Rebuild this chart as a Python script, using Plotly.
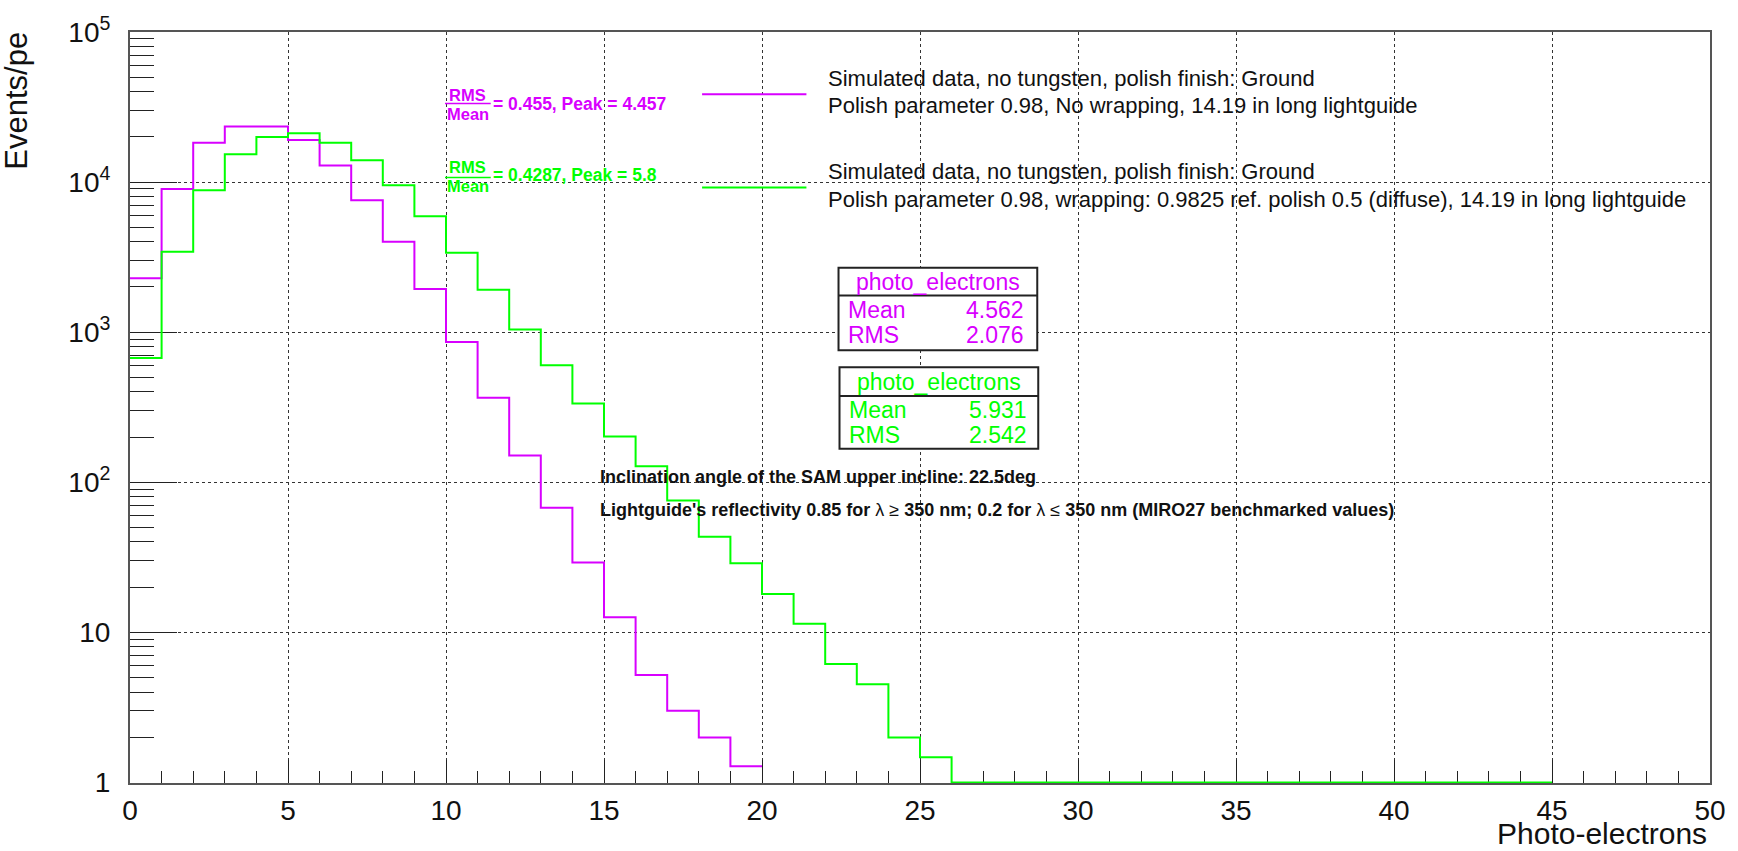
import plotly.graph_objects as go

# ---------------- data ----------------
magenta_edges = list(range(0, 21))
magenta_counts = [2290, 8990, 18300, 23500, 23500, 19050, 12900, 7560, 4005, 1936,
                  859, 365, 151, 67.6, 29.2, 12.6, 5.2, 3.0, 1.99, 1.28]

green_edges = list(range(0, 46))
green_counts = [673, 3437, 8810, 15320, 19950, 21120, 18300, 13990, 9510, 5930,
                3388, 1918, 1042, 602, 335, 202, 127.7, 75.7, 43.4, 28.8,
                18.0, 11.4, 6.14, 4.5, 1.99, 1.47,
                1, 1, 1, 1, 1, 1, 1, 1, 1, 1,
                1, 1, 1, 1, 1, 1, 1, 1, 1]

x_tickvals = [0, 5, 10, 15, 20, 25, 30, 35, 40, 45, 50]
y_tickvals = [1, 10, 100, 1000, 10000, 100000]
y_ticktext = ["1", "10", "10<sup>2</sup>", "10<sup>3</sup>", "10<sup>4</sup>", "10<sup>5</sup>"]

legend_texts = [
    ["Simulated data, no tungsten, polish finish: Ground",
     "Polish parameter 0.98, No wrapping, 14.19 in long lightguide"],
    ["Simulated data, no tungsten, polish finish: Ground",
     "Polish parameter 0.98, wrapping: 0.9825 ref. polish 0.5 (diffuse), 14.19 in long lightguide"],
]
ratio_texts = ["= 0.455, Peak = 4.457", "= 0.4287, Peak = 5.8"]
stats = [("4.562", "2.076"), ("5.931", "2.542")]

MAG = "#D800FF"
GRN = "#00FF00"
FONT = "Liberation Sans, Arial, Helvetica, sans-serif"

W, H = 1738, 851
L, R, T, B = 130, 18, 28, 68
PW, PH = W - L - R, H - T - B


def px(xp):
    return (xp - L) / PW


def py(yp):
    return (H - B - yp) / PH


fig = go.Figure()
fig.add_trace(go.Scatter(x=magenta_edges, y=magenta_counts + [magenta_counts[-1]],
                         mode="lines", line=dict(color=MAG, width=2, shape="hv"),
                         showlegend=False, hoverinfo="skip"))
fig.add_trace(go.Scatter(x=green_edges, y=green_counts + [green_counts[-1]],
                         mode="lines", line=dict(color=GRN, width=2, shape="hv"),
                         showlegend=False, hoverinfo="skip"))

annotations = []
shapes = []

# legend (manual, ROOT style)
leg_line_y = [90.7, 184.3]
leg_text_y = [(75, 101.7), (168.3, 196.7)]
for i, col in enumerate([MAG, GRN]):
    shapes.append(dict(type="line", xref="paper", yref="paper",
                       x0=px(705.7), x1=px(810.7), y0=py(leg_line_y[i]), y1=py(leg_line_y[i]),
                       line=dict(color=col, width=2)))
    for j, t in enumerate(legend_texts[i]):
        annotations.append(dict(xref="paper", yref="paper", x=px(830), y=py(leg_text_y[i][j]),
                                xanchor="left", yanchor="middle", showarrow=False,
                                text=t, font=dict(family=FONT, size=22, color="#111")))

# RMS/Mean fraction annotations
frac_pos = [(91, 100, 110, 100), (164, 174.3, 183, 172)]
for i, col in enumerate([MAG, GRN]):
    yr, yb, ym, yt = frac_pos[i]
    annotations.append(dict(xref="paper", yref="paper", x=px(470), y=py(yr),
                            xanchor="center", yanchor="middle", showarrow=False,
                            text="<b>RMS</b>", font=dict(family=FONT, size=16.5, color=col)))
    annotations.append(dict(xref="paper", yref="paper", x=px(470), y=py(ym),
                            xanchor="center", yanchor="middle", showarrow=False,
                            text="<b>Mean</b>", font=dict(family=FONT, size=16.5, color=col)))
    shapes.append(dict(type="line", xref="paper", yref="paper",
                       x0=px(447), x1=px(493), y0=py(yb), y1=py(yb),
                       line=dict(color=col, width=1.5)))
    annotations.append(dict(xref="paper", yref="paper", x=px(493), y=py(yt),
                            xanchor="left", yanchor="middle", showarrow=False,
                            text="<b>" + ratio_texts[i] + "</b>",
                            font=dict(family=FONT, size=17.5, color=col)))

# stats boxes
boxes = [dict(x0=843, x1=1043, top=265, div=293, bot=348, ty=279, my=307, ry=333, vr=1030),
         dict(x0=844, x1=1044, top=365, div=394, bot=447, ty=380, my=408, ry=433, vr=1033)]
for i, col in enumerate([MAG, GRN]):
    b = boxes[i]
    shapes.append(dict(type="rect", xref="paper", yref="paper",
                       x0=px(b["x0"]), x1=px(b["x1"]), y0=py(b["bot"]), y1=py(b["top"]),
                       line=dict(color="#222", width=2), fillcolor="white", layer="above"))
    shapes.append(dict(type="line", xref="paper", yref="paper",
                       x0=px(b["x0"]), x1=px(b["x1"]), y0=py(b["div"]), y1=py(b["div"]),
                       line=dict(color="#222", width=2), layer="above"))
    annotations.append(dict(xref="paper", yref="paper", x=px((b["x0"] + b["x1"]) / 2), y=py(b["ty"]),
                            xanchor="center", yanchor="middle", showarrow=False,
                            text="photo_electrons", font=dict(family=FONT, size=23, color=col)))
    for lab, val, yy in [("Mean", stats[i][0], b["my"]), ("RMS", stats[i][1], b["ry"])]:
        annotations.append(dict(xref="paper", yref="paper", x=px(b["x0"] + 8), y=py(yy),
                                xanchor="left", yanchor="middle", showarrow=False,
                                text=lab, font=dict(family=FONT, size=23, color=col)))
        annotations.append(dict(xref="paper", yref="paper", x=px(b["vr"] + 2), y=py(yy),
                                xanchor="right", yanchor="middle", showarrow=False,
                                text=val, font=dict(family=FONT, size=23, color=col)))

# black info text
annotations.append(dict(xref="paper", yref="paper", x=px(601), y=py(475),
                        xanchor="left", yanchor="middle", showarrow=False,
                        text="<b>Inclination angle of the SAM upper incline: 22.5deg</b>",
                        font=dict(family=FONT, size=18, color="#111")))
annotations.append(dict(xref="paper", yref="paper", x=px(601), y=py(509),
                        xanchor="left", yanchor="middle", showarrow=False,
                        text="<b>Lightguide's reflectivity 0.85 for </b>λ ≥<b> 350 nm; 0.2 for </b>λ ≤<b> 350 nm (MIRO27 benchmarked values)</b>",
                        font=dict(family=FONT, size=18, color="#111")))

# axis titles
annotations.append(dict(xref="paper", yref="paper", x=px(1719), y=py(834),
                        xanchor="right", yanchor="middle", showarrow=False,
                        text="Photo-electrons", font=dict(family=FONT, size=30, color="#111")))
annotations.append(dict(xref="paper", yref="paper", x=px(15), y=py(26),
                        xanchor="center", yanchor="top", showarrow=False, textangle=-90,
                        text="Events/pe", font=dict(family=FONT, size=31, color="#111")))

fig.update_layout(
    width=W, height=H,
    margin=dict(l=L, r=R, t=T, b=B, pad=0),
    paper_bgcolor="white", plot_bgcolor="white",
    font=dict(family=FONT, size=28, color="#111"),
    annotations=annotations, shapes=shapes,
    xaxis=dict(range=[0, 50], tickvals=x_tickvals, ticks="inside", ticklen=23,
               tickwidth=1.2, tickcolor="#222",
               minor=dict(dtick=1, tick0=0, ticks="inside", ticklen=12, tickwidth=1.2,
                          tickcolor="#222", showgrid=False),
               showgrid=True, gridcolor="#333", gridwidth=1, griddash="dot",
               showline=True, linecolor="#555", linewidth=2, mirror=True,
               zeroline=False, layer="below traces",
               tickfont=dict(family=FONT, size=28, color="#111"), ticklabelstandoff=1),
    yaxis=dict(type="log", range=[-0.004, 5], tickvals=y_tickvals, ticktext=y_ticktext,
               ticks="inside", ticklen=47, tickwidth=1.2, tickcolor="#222",
               minor=dict(dtick="D1", ticks="inside", ticklen=24, tickwidth=1.2,
                          tickcolor="#222", showgrid=False),
               showgrid=True, gridcolor="#333", gridwidth=1, griddash="dot",
               showline=True, linecolor="#555", linewidth=2, mirror=True,
               zeroline=False, layer="below traces",
               tickfont=dict(family=FONT, size=28, color="#111"), ticklabelstandoff=12),
)

# remove the browser's default 8px page margin so the figure sits at (0, 0)
fig.write_html("out.html",
               config={"displayModeBar": False},
               post_script="document.body.style.margin='0';document.body.style.overflow='hidden';")
